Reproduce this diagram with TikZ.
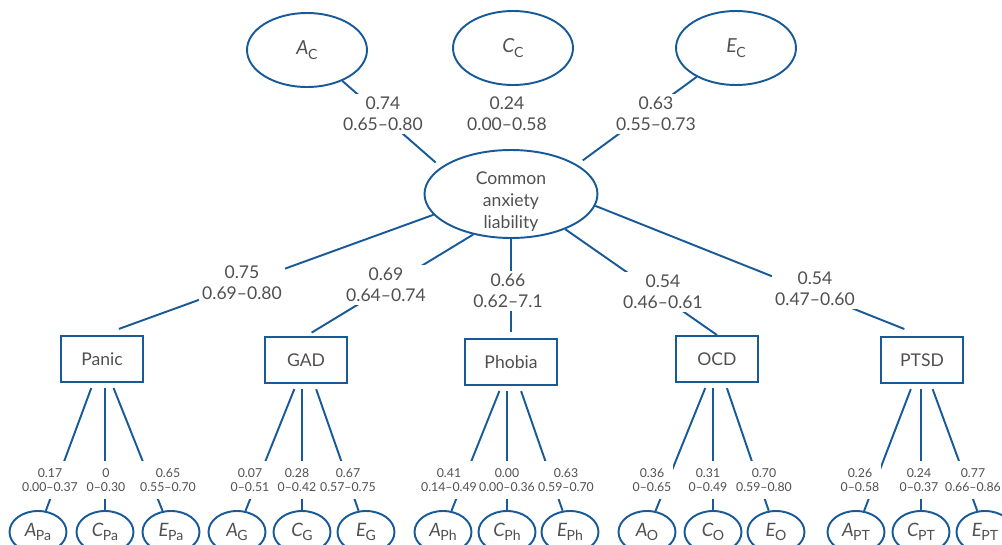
\documentclass[tikz,border=0pt]{standalone}
\usepackage{fontspec}
\setmainfont{Lato}
\usepackage{tikz}
\usetikzlibrary{shapes.geometric}

\definecolor{pathblue}{RGB}{24,90,152}
\definecolor{txtgrey}{RGB}{80,80,80}

\newcommand{\acesub}[2]{\textit{#1}\kern-0.3pt\raisebox{-0.45ex}{\fontsize{8}{8}\selectfont #2}}

\tikzset{
  path/.style={draw=pathblue, line width=1.1pt},
  latent/.style={ellipse, draw=pathblue, line width=1.1pt, text=txtgrey, inner sep=0pt},
  topace/.style={latent, minimum width=2.4cm, minimum height=1.48cm, font=\fontsize{11}{12}\selectfont},
  ace/.style={latent, minimum width=1.14cm, minimum height=0.84cm, font=\fontsize{10.5}{12}\selectfont},
  disorder/.style={draw=pathblue, line width=1.1pt, text=txtgrey, minimum width=1.64cm, minimum height=0.92cm},
  est/.style={fill=white, align=center, text=txtgrey, inner sep=2pt},
  smallest/.style={fill=white, align=center, text=txtgrey, inner xsep=1pt, inner ysep=4pt, font=\fontsize{7}{8}\selectfont}
}

\begin{document}
\begin{tikzpicture}[x=0.02cm, y=-0.02cm, font=\fontsize{10}{12}\selectfont]
        \useasboundingbox (0,0) rectangle (1002,545);
        \clip (0,0) rectangle (1002,545);

        % Common liability
        \node[latent, minimum width=3.46cm, minimum height=1.76cm,
              label={[align=center, text=txtgrey, yshift=-0.15cm, font=\fontsize{10}{12.5}\selectfont]center:Common\\anxiety\\liability}] (common) at (511,194) {};

        % ACE of the common liability
        \node[topace] (ac) at (307,50) {\acesub{A}{C}};
        \node[topace] (cc) at (513,48) {\acesub{C}{C}};
        \node[topace] (ec) at (736,48) {\acesub{E}{C}};
        \draw[path, shorten >=0.14cm] (ac) -- (common.159);
        \draw[path, shorten >=0.14cm] (ec) -- (common.24);
        \node[est] (lac) at (383,114) {0.74\\0.65--0.80};
        \node[est] (lcc) at (507,114) {0.24\\0.00--0.58};
        \node[est] (lec) at (656,114) {0.63\\0.55--0.73};

        % Disorders
        \node[disorder] (panic) at (102,359) {Panic};
        \node[disorder] (gad) at (306,360) {GAD};
        \node[disorder, minimum width=1.84cm] (phobia) at (511,362) {Phobia};
        \node[disorder] (ocd) at (717,359) {OCD};
        \node[disorder] (ptsd) at (922,360) {PTSD};

        % Loadings on the common liability
        \draw[path, shorten >=0.36cm] (common.195) -- (panic.north);
        \draw[path, shorten >=0.13cm] (common.227) -- (gad.north);
        \draw[path, shorten >=0.12cm] (common) -- (phobia);
        \draw[path] (common.-33) -- (ocd.north);
        \draw[path, shorten >=0.38cm] (common.-8) -- (ptsd.north);
        \node[est] (lpanic) at (242,283) {0.75\\0.69--0.80};
        \node[est] (lgad) at (386,285) {0.69\\0.64--0.74};
        \node[est] (lphobia) at (508,291) {0.66\\0.62--7.1};
        \node[est] (locd) at (663,292) {0.54\\0.46--0.61};
        \node[est] (lptsd) at (815,289) {0.54\\0.47--0.60};

        % Specific ACE for each disorder
        \foreach \dis/\sb/\xa/\xc/\xe in {panic/Pa/38/105/171, gad/G/237/302/366, phobia/Ph/443/507/570, ocd/O/647/713/776, ptsd/PT/856/921/985} {
            \node[ace] (a\sb) at (\xa,532) {\acesub{A}{\sb}};
            \node[ace] (c\sb) at (\xc,532) {\acesub{C}{\sb}};
            \node[ace] (e\sb) at (\xe,532) {\acesub{E}{\sb}};
            \draw[path, shorten <=0.11cm] (\dis) -- (a\sb);
            \draw[path, shorten <=0.11cm] (c\sb |- \dis.south) -- (c\sb);
            \draw[path, shorten <=0.11cm] (\dis) -- (e\sb);
        }

        % Specific estimates
        \foreach \x/\val/\ci [count=\i] in {50/0.17/0.00--0.37, 106/0/0--0.30, 168/0.65/0.55--0.70,
                250/0.07/0--0.51, 297/0.28/0--0.42, 348/0.67/0.57--0.75,
                449/0.41/0.14--0.49, 507/0.00/0.00--0.36, 566/0.63/0.59--0.70,
                652/0.36/0--0.65, 708/0.31/0--0.49, 764/0.70/0.59--0.80,
                860/0.26/0--0.58, 919/0.24/0--0.37, 973/0.77/0.66--0.86} {
            \node[smallest] (sl\i) at (\x,480) {\val\\\ci};
        }
    \end{tikzpicture}
\end{document}
